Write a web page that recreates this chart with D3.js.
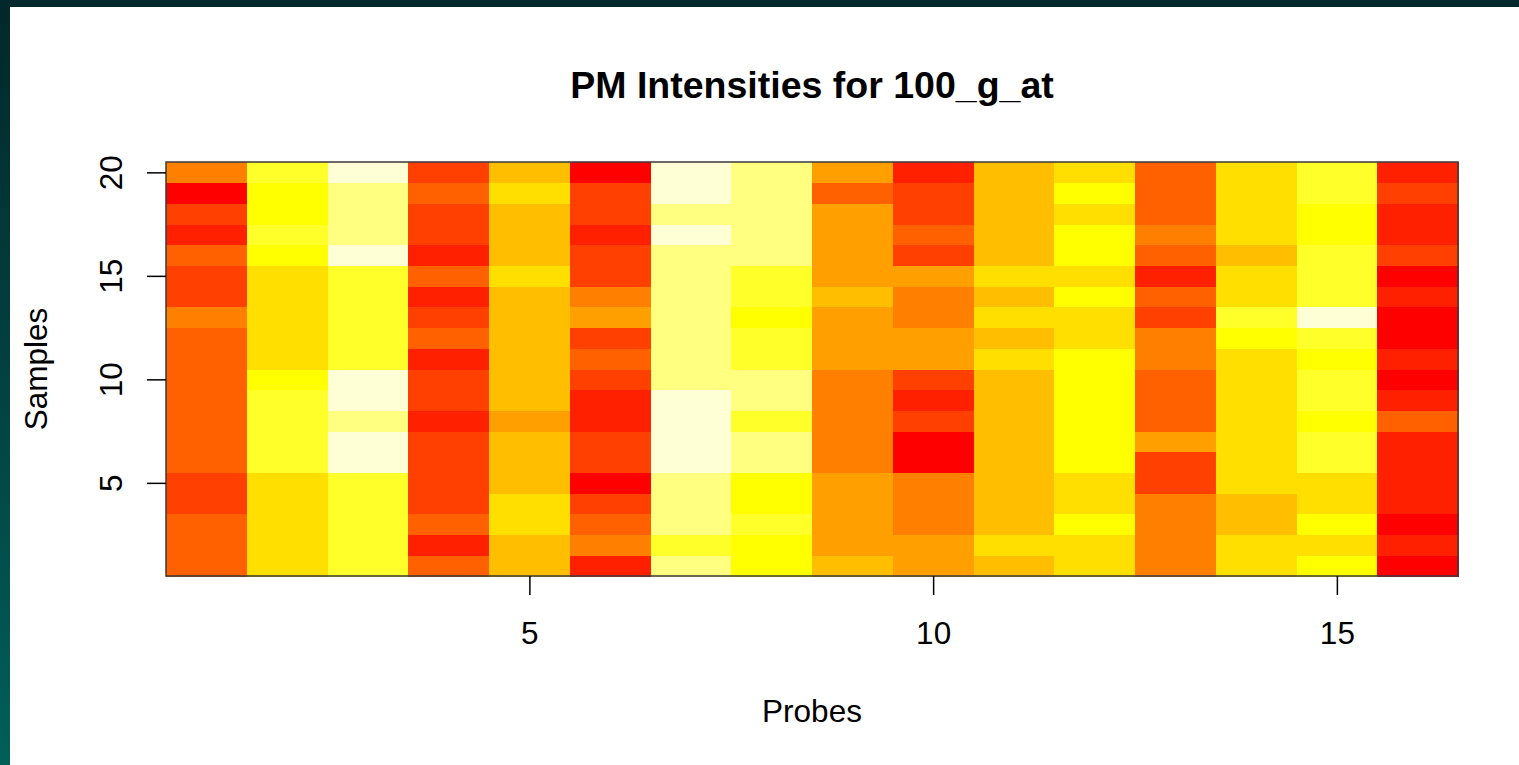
<!DOCTYPE html>
<html>
<head>
<meta charset="utf-8">
<script src="https://cdn.jsdelivr.net/npm/d3@7"></script>
<style>
  html, body { margin: 0; padding: 0; }
  body {
    width: 1519px; height: 765px; overflow: hidden;
    background: linear-gradient(to bottom, #01282a 0%, #023c3c 40%, #015f5a 100%);
    position: relative;
  }
  svg { position: absolute; left: 10px; top: 7px; background: #ffffff; }
  text { font-family: "Liberation Sans", Arial, Helvetica, sans-serif; fill: #000; }
</style>
</head>
<body>
<svg id="chart" width="1509" height="758"></svg>
<script>
// ---- data ----
const title = "PM Intensities for 100_g_at";
const xLabel = "Probes";
const yLabel = "Samples";
const probes = d3.range(1, 17);    // 1..16
const samples = d3.range(1, 21);   // 1..20
const xTicks = [5, 10, 15];
const yTicks = [5, 10, 15, 20];

// heat.colors(12) palette (R)
const heatColors = ["#FF0000","#FF2000","#FF4000","#FF6000","#FF8000","#FF9F00",
                    "#FFBF00","#FFDF00","#FFFF00","#FFFF2A","#FFFF80","#FFFFD5"];

// intensity level (1..12) per probe, listed for samples 1..20
const probe1  = [4,4,4,3,3,4,4,4,4,4,4,4,5,3,3,4,2,3,1,5];
const probe2  = [8,8,8,8,8,10,10,10,10,9,8,8,8,8,8,9,10,9,9,10];
const probe3  = [10,10,10,10,10,12,12,11,12,12,10,10,10,10,10,12,11,11,11,12];
const probe4  = [4,2,4,3,3,3,3,2,3,3,2,4,3,2,4,2,3,3,4,3];
const probe5  = [7,7,8,8,7,7,7,6,7,7,7,7,7,7,8,7,7,7,8,7];
const probe6  = [2,5,4,3,1,3,3,2,2,3,4,3,6,5,3,3,2,3,3,1];
const probe7  = [11,10,11,11,11,12,12,12,12,11,11,11,11,11,11,11,12,11,12,12];
const probe8  = [9,9,10,9,9,11,11,10,11,11,10,10,9,10,10,11,11,11,11,11];
const probe9  = [7,6,6,6,6,5,5,5,5,5,6,6,6,7,6,6,6,6,4,6];
const probe10 = [6,6,5,5,5,1,1,3,2,3,6,6,5,5,6,3,4,3,3,2];
const probe11 = [7,8,7,7,7,7,7,7,7,7,8,7,8,7,8,7,7,7,7,7];
const probe12 = [8,8,9,8,8,9,9,9,9,9,9,8,8,9,8,9,9,8,9,8];
const probe13 = [5,5,5,5,3,3,6,4,4,4,5,5,3,4,2,4,5,4,4,4];
const probe14 = [8,8,7,7,8,8,8,8,8,8,8,9,10,8,8,7,8,8,8,8];
const probe15 = [9,8,9,8,8,10,10,9,10,10,9,10,12,10,10,10,9,9,10,10];
const probe16 = [1,2,1,2,2,2,2,4,2,1,2,1,1,2,1,3,2,2,3,2];

const probeData = [probe1, probe2, probe3, probe4, probe5, probe6, probe7, probe8,
                   probe9, probe10, probe11, probe12, probe13, probe14, probe15, probe16];

// ---- layout (svg coords; svg offset 10,7 on page) ----
const ox = 10, oy = 7;
const plot = { left: 166 - ox, right: 1458 - ox, top: 162 - oy, bottom: 576 - oy };
const axisFont = "31.5px";
const titleFont = "37.5px";

const svg = d3.select("#chart");

const x = d3.scaleLinear().domain([0.5, 16.5]).range([plot.left, plot.right]);
const y = d3.scaleLinear().domain([0.5, 20.5]).range([plot.bottom, plot.top]);
const color = d3.scaleOrdinal().domain(d3.range(1, 13)).range(heatColors);

const cells = [];
probes.forEach((p, i) => {
  samples.forEach((s, j) => {
    cells.push({ probe: p, sample: s, value: probeData[i][j] });
  });
});

svg.append("g")
  .selectAll("rect")
  .data(cells)
  .join("rect")
  .attr("x", d => x(d.probe - 0.5))
  .attr("y", d => y(d.sample + 0.5))
  .attr("width", d => x(d.probe + 0.5) - x(d.probe - 0.5) + 0.5)
  .attr("height", d => y(d.sample - 0.5) - y(d.sample + 0.5) + 0.5)
  .attr("fill", d => color(d.value))
  .attr("shape-rendering", "crispEdges");

// box
svg.append("rect")
  .attr("x", plot.left).attr("y", plot.top)
  .attr("width", plot.right - plot.left)
  .attr("height", plot.bottom - plot.top)
  .attr("fill", "none")
  .attr("stroke", "#3a3a3a")
  .attr("stroke-width", 1.5);

// x axis
const xAxis = svg.append("g")
  .attr("transform", `translate(0,${plot.bottom})`)
  .call(d3.axisBottom(x).tickValues(xTicks).tickSize(19).tickFormat(d3.format("d")));
xAxis.select(".domain").remove();
xAxis.selectAll(".tick line").attr("stroke", "#000").attr("stroke-width", 1.5);
xAxis.selectAll(".tick text")
  .attr("y", 644 - 576).attr("dy", 0)
  .style("font-size", axisFont)
  .attr("font-family", null);

// y axis
const yAxis = svg.append("g")
  .attr("transform", `translate(${plot.left},0)`)
  .call(d3.axisLeft(y).tickValues(yTicks).tickSize(19).tickFormat(d3.format("d")));
yAxis.select(".domain").remove();
yAxis.selectAll(".tick line").attr("stroke", "#000").attr("stroke-width", 1.5);
yAxis.selectAll(".tick text")
  .attr("transform", "rotate(-90)")
  .attr("x", 0).attr("y", -(166 - 122)).attr("dy", 0)
  .attr("text-anchor", "middle")
  .style("font-size", axisFont)
  .attr("font-family", null);

// title
svg.append("text")
  .attr("x", (plot.left + plot.right) / 2)
  .attr("y", 98 - oy)
  .attr("text-anchor", "middle")
  .style("font-size", titleFont)
  .style("font-weight", "bold")
  .text(title);

// x label
svg.append("text")
  .attr("x", (plot.left + plot.right) / 2)
  .attr("y", 722 - oy)
  .attr("text-anchor", "middle")
  .style("font-size", axisFont)
  .text(xLabel);

// y label
svg.append("text")
  .attr("transform", `translate(${47 - ox},${(plot.top + plot.bottom) / 2}) rotate(-90)`)
  .attr("text-anchor", "middle")
  .style("font-size", axisFont)
  .text(yLabel);
</script>
</body>
</html>
